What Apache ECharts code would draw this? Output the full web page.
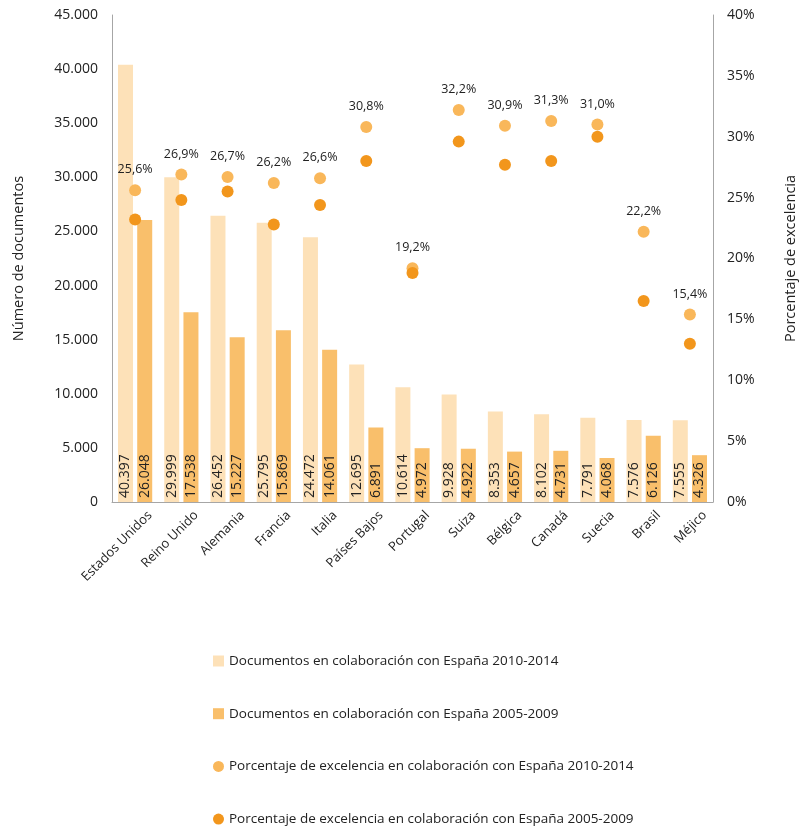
<!DOCTYPE html>
<html>
<head>
<meta charset="utf-8">
<script src="https://cdn.jsdelivr.net/npm/echarts@6/dist/echarts.min.js"></script>
<style>
  html, body { margin: 0; padding: 0; background: #fff; }
  #chart { width: 806px; height: 827px; }
</style>
</head>
<body>
<div id="chart"></div>
<script>
// datos
const paises = ['Estados Unidos', 'Reino Unido', 'Alemania', 'Francia', 'Italia', 'Países Bajos', 'Portugal', 'Suiza', 'Bélgica', 'Canadá', 'Suecia', 'Brasil', 'Méjico']
const docs2010 = [40397, 29999, 26452, 25795, 24472, 12695, 10614, 9928, 8353, 8102, 7791, 7576, 7555]
const docs2005 = [26048, 17538, 15227, 15869, 14061, 6891, 4972, 4922, 4657, 4731, 4068, 6126, 4326]
const exc2010 = [25.6, 26.9, 26.7, 26.2, 26.6, 30.8, 19.2, 32.2, 30.9, 31.3, 31.0, 22.2, 15.4]
const exc2005 = [23.2, 24.8, 25.5, 22.8, 24.4, 28.0, 18.8, 29.6, 27.7, 28.0, 30.0, 16.5, 13.0]

const nombres = [
  'Documentos en colaboración con España 2010-2014',
  'Documentos en colaboración con España 2005-2009',
  'Porcentaje de excelencia en colaboración con España 2010-2014',
  'Porcentaje de excelencia en colaboración con España 2005-2009'
]
const iconos = ['rect', 'rect', 'circle', 'circle']

const fuente = 'Open Sans'
const miles = v => String(v).replace(/\B(?=(\d{3})+(?!\d))/g, '.')

const myEcharts = echarts.init(document.getElementById('chart'))
const etiquetaBarra = {
  show: true,
  position: 'insideBottom',
  rotate: 90,
  align: 'left',
  verticalAlign: 'middle',
  distance: 4,
  color: '#222',
  fontFamily: fuente,
  fontSize: 14,
  formatter: p => miles(p.value)
}
// una leyenda por fila, como en el original
const leyendas = nombres.map((n, i) => ({
  orient: 'vertical',
  left: 213,
  top: 654 + i * 52.7,
  padding: 0,
  itemWidth: 11,
  itemHeight: 11,
  itemGap: 4,
  textStyle: { fontSize: 13.5, color: '#222', fontFamily: fuente },
  data: [{ name: n, icon: iconos[i] }]
}))

const option = {
  animation: false,
  textStyle: { fontFamily: fuente },
  grid: { left: 112, right: 90, top: 15, bottom: 325 },
  legend: leyendas,
  xAxis: {
    type: 'category',
    data: paises,
    axisLine: { lineStyle: { color: '#A6A6A6' } },
    axisTick: { show: false },
    axisLabel: {
      rotate: 45,
      interval: 0,
      fontSize: 13,
      color: '#222',
      margin: 26,
      padding: [0, -21, 0, 0]
    }
  },
  yAxis: [
    {
      type: 'value',
      min: 0,
      max: 45000,
      interval: 5000,
      name: 'Número de documentos',
      nameLocation: 'middle',
      nameGap: 86,
      nameTextStyle: { fontSize: 14.5, color: '#222' },
      axisLine: { show: true, lineStyle: { color: '#A6A6A6' } },
      axisTick: { show: false },
      splitLine: { show: false },
      axisLabel: { fontSize: 14, color: '#222', margin: 14, formatter: v => miles(v) }
    },
    {
      type: 'value',
      min: 0,
      max: 40,
      interval: 5,
      name: 'Porcentaje de excelencia',
      nameLocation: 'middle',
      nameGap: 70,
      nameRotate: 90,
      nameTextStyle: { fontSize: 14.5, color: '#222' },
      axisLine: { show: true, lineStyle: { color: '#A6A6A6' } },
      axisTick: { show: false },
      splitLine: { show: false },
      axisLabel: { fontSize: 14, color: '#222', margin: 14, formatter: '{value}%' }
    }
  ],
  series: [
    {
      name: nombres[0],
      type: 'bar',
      data: docs2010,
      barWidth: 15,
      barGap: '28%',
      itemStyle: { color: '#FDE1B8' },
      label: etiquetaBarra
    },
    {
      name: nombres[1],
      type: 'bar',
      data: docs2005,
      barWidth: 15,
      itemStyle: { color: '#F9BF6B' },
      label: etiquetaBarra
    },
    {
      name: nombres[2],
      type: 'scatter',
      yAxisIndex: 1,
      data: exc2010,
      symbolSize: 12,
      itemStyle: { color: '#F9B75A', opacity: 1 },
      z: 3,
      label: {
        show: true,
        position: 'top',
        distance: 8,
        color: '#222',
        fontSize: 12.5,
        formatter: p => p.value.toFixed(1).replace('.', ',') + '%'
      }
    },
    {
      name: nombres[3],
      type: 'scatter',
      yAxisIndex: 1,
      data: exc2005,
      symbolSize: 12,
      itemStyle: { color: '#F2961C', opacity: 1 },
      z: 4
    }
  ]
}
myEcharts.setOption(option)
</script>
</body>
</html>
